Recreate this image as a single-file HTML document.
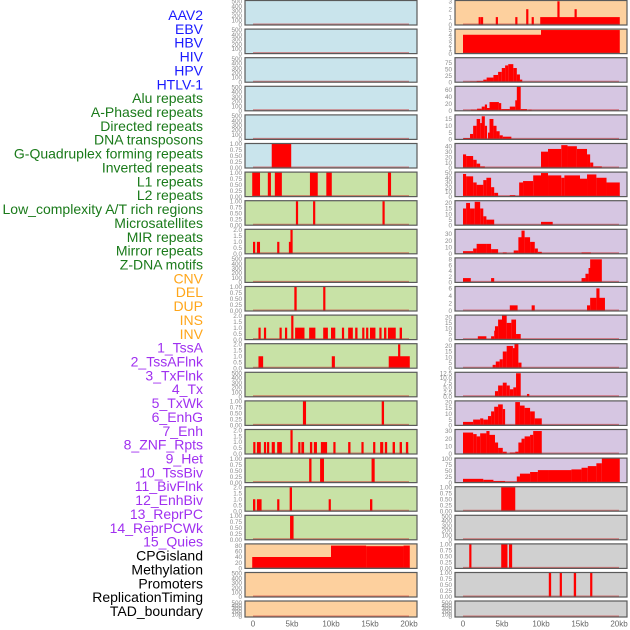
<!DOCTYPE html>
<html><head><meta charset="utf-8">
<style>
html,body{margin:0;padding:0;background:#fff;width:630px;height:630px;overflow:hidden}
svg{display:block}
.lbl{font-family:"Liberation Sans","DejaVu Sans",sans-serif;font-size:14px}
.tk{font-family:"Liberation Sans","DejaVu Sans",sans-serif;font-size:6.3px;fill:#8a8a8a}
.xt{font-family:"Liberation Sans","DejaVu Sans",sans-serif;font-size:8px;fill:#666}
</style></head>
<body>
<svg id="chart" width="630" height="630" viewBox="0 0 630 630" xmlns="http://www.w3.org/2000/svg"></svg>
<script>
const trackLabels=["AAV2","EBV","HBV","HIV","HPV","HTLV-1","Alu repeats","A-Phased repeats","Directed repeats","DNA transposons","G-Quadruplex forming repeats","Inverted repeats","L1 repeats","L2 repeats","Low_complexity A/T rich regions","Microsatellites","MIR repeats","Mirror repeats","Z-DNA motifs","CNV","DEL","DUP","INS","INV","1_TssA","2_TssAFlnk","3_TxFlnk","4_Tx","5_TxWk","6_EnhG","7_Enh","8_ZNF_Rpts","9_Het","10_TssBiv","11_BivFlnk","12_EnhBiv","13_ReprPC","14_ReprPCWk","15_Quies","CPGisland","Methylation","Promoters","ReplicationTiming","TAD_boundary"];
const labelGroups=[6,13,5,15,5];
const xTickValues=[0,5,10,15,20];
const xTickLabels=["0","5kb","10kb","15kb","20kb"];
const T500=["0","100","200","300","400","500"],T1=["0.00","0.25","0.50","0.75","1.00"],T2=["0.0","0.5","1.0","1.5","2.0"];
const leftTicks=[T500,T500,T500,T500,T500,T1,T1,T1,T2,T500,T1,T2,T2,T500,T1,T2,T1,T2,T1,["0","20","40","60","80"],T500,T500];
const leftYMax=[520,520,520,520,520,1.02,1.02,1.02,2.05,520,1.02,2.05,2.05,520,1.02,2.05,1.02,2.05,1.02,86,520,560];
const leftSegs=[[],[],[],[],[],
[[2.4,4.9,1]],
[[-0.1,0.9,1],[1.9,2.3,1],[2.8,3.7,1],[7.3,8.3,1],[9.4,10.1,1],[17.3,17.7,1]],
[[5.5,5.7,1],[7.7,7.9,1],[16.6,16.8,1]],
[[0,0.2,1],[0.5,0.9,1],[3.1,3.3,1],[4.6,5.0,1],[4.8,5.0,2]],
[],
[[5.3,5.6,1],[9.0,9.2,1]],
[[0.7,0.9,1],[1.4,1.6,1],[3.4,3.6,1],[4.1,4.3,1],[4.9,5.05,2],[5.4,6.6,1],[7.2,8.0,1],[9.0,9.6,1],[10.0,10.55,1],[11.4,11.6,1],[12.2,12.8,1],[13.1,13.4,1],[14.0,14.2,1],[14.5,14.7,1],[15.0,15.7,1],[16.2,16.4,1],[16.8,17.1,1],[17.3,18.3,1],[18.8,19.1,1]],
[[0.7,1.3,1],[10.1,10.5,1],[17.4,20.1,1],[18.6,18.8,2]],
[],
[[6.4,6.8,1],[16.5,16.8,1]],
[[0.03,0.3,1],[0.5,1.0,1],[1.4,1.66,1],[1.8,2.05,1],[2.4,2.8,1],[3.1,3.7,1],[4.8,5.0,2],[5.8,6.0,1],[6.2,6.55,1],[7.3,7.6,1],[7.8,8.2,1],[8.7,9.5,1],[10.3,10.5,1],[12.2,12.5,1],[13.9,14.1,1],[15.4,15.6,1],[16.3,16.7,1],[16.9,17.2,1],[17.9,18.2,1],[18.8,19.1,1],[19.6,19.9,1]],
[[7.2,7.5,1],[8.6,9.1,1],[15.2,15.6,1]],
[[0,0.3,1],[0.5,1.1,1],[3.1,3.3,1],[4.7,5.0,2],[9.7,9.96,1],[15.0,15.3,1]],
[[4.75,5.2,1]],
[[-0.1,10,40],[10,14.5,80],[14.5,19.3,78],[19.3,20.1,80]],
[],[]];
const rightTicks=[["0","1","2","3"],["0","1","2","3","4","5"],["0","25","50","75"],["0","20","40","60"],["0","5","10","15"],["0","10","20","30","40"],["0","10","20","30","40","50"],["0","5","10","15","20"],["0","10","20","30"],["0","2","4","6","8"],["0","2","4","6"],["0","5","10","15","20"],["0","5","10","15","20"],["0.0","2.5","5.0","7.5","10.0","12.5"],["0","5","10","15","20"],["0","10","20","30"],["0","25","50","75","100"],T1,T500,T1,T1,T500];
const rightYMax=[3.1,5.2,95,70,18,45,52,22,37,8.5,6.5,22,22,13,21,32,104,1.02,520,1.02,1.02,560];
const rightSegs=[
[[2.0,2.2,1],[2.3,2.5,1],[4.2,4.4,1],[6.7,6.9,1],[8.1,8.3,2],[8.8,9.0,1],[9.9,20.1,1],[12.1,12.3,3],[14.3,14.5,2]],
[[0,10,4],[10,20.1,5]],
[[0.9,1.75,3],[1.75,2.6,5],[2.6,3.03,10],[3.03,3.9,18],[3.9,4.5,28],[4.5,4.97,40],[4.97,5.4,55],[5.4,5.8,65],[5.8,6.45,70],[6.45,6.9,55],[6.9,7.3,30],[7.3,7.6,10]],
[[1.0,1.8,3],[1.8,2.4,6],[2.4,2.8,12],[2.8,3.0,18],[3.0,3.4,8],[3.4,4.6,25],[4.6,4.9,22],[4.9,6.0,5],[6.0,6.7,12],[6.7,6.9,30],[6.9,7.4,70],[7.4,8.2,5],[8.4,8.8,3]],
[[0.04,0.9,1],[0.9,1.3,4],[1.3,1.75,10],[1.75,2.2,15],[2.2,2.4,12],[2.4,2.8,17],[2.8,3.03,10],[3.2,3.4,5],[3.4,3.9,15],[3.9,4.3,10],[4.3,4.7,6],[4.7,5.1,3],[5.1,6.2,2]],
[[0,0.4,25],[0.4,1.3,22],[1.3,1.75,15],[1.75,2.2,8],[2.2,2.8,3],[10,10.9,30],[10.9,12.6,35],[12.6,13.4,42],[13.4,14.6,40],[14.6,15.9,35],[15.9,16.3,25],[16.3,16.7,10],[16.7,17.8,3]],
[[0,0.4,48],[0.4,1.3,43],[1.3,1.75,30],[1.75,2.6,25],[2.6,3.0,35],[3.0,3.6,40],[3.6,4.0,20],[4.0,4.5,8],[6.0,6.7,3],[7.2,7.7,30],[7.7,9.0,33],[9.0,10,45],[10,10.9,50],[10.9,12.6,45],[12.6,13.0,40],[13.0,15.0,45],[15.0,15.9,38],[15.9,17.1,47],[17.1,18.4,40],[18.4,20.1,30]],
[[0,0.4,15],[0.4,0.9,20],[0.9,1.5,15],[1.5,2.2,21],[2.2,2.6,15],[2.6,3.0,8],[3.0,4.0,5],[10,11.5,3]],
[[0,1.3,4],[1.3,1.75,8],[1.75,3.0,15],[3.0,3.6,15],[3.6,4.5,7],[5.1,5.6,2],[6.5,7.1,5],[7.1,7.5,25],[7.5,7.9,35],[7.9,8.6,25],[8.6,9.2,18],[9.2,9.6,8],[9.6,10.1,3],[15.2,16.4,2]],
[[0,1.0,1.5],[3.6,4.0,1.5],[15.2,15.7,1.5],[15.7,16.1,3],[16.1,16.3,5],[16.3,17.8,8]],
[[6.0,7.0,1.5],[8.8,9.2,1.5],[15.9,16.3,1.5],[16.3,17.1,3.5],[17.1,17.5,6],[17.5,18.2,3.5]],
[[1.9,3.0,3],[3.6,4.0,3],[4.0,4.1,8],[4.1,4.5,12],[4.5,5.0,18],[5.0,5.6,22],[5.6,6.2,15],[6.2,6.8,18],[6.8,7.4,5]],
[[3.8,4.2,3],[4.2,4.7,6],[4.7,5.1,8],[5.1,5.6,15],[5.6,6.4,20],[6.4,6.6,18],[6.6,7.1,22],[7.1,7.5,5]],
[[4.1,4.5,3],[4.5,5.1,6],[5.1,5.6,7.5],[5.6,6.0,6],[6.0,6.45,4],[6.45,6.8,5],[6.8,7.4,12.5],[8.2,8.5,1.5]],
[[0,1.3,3],[1.3,2.2,5],[2.2,2.6,6],[2.6,3.2,5],[3.2,3.6,8],[3.6,4.0,12],[4.0,4.5,16],[4.5,5.1,18],[5.1,5.4,14],[6.7,7.3,20],[7.3,7.9,17],[7.9,8.6,15],[8.6,9.2,12],[9.2,10.1,6]],
[[0,1.3,28],[1.3,1.75,26],[1.75,2.2,23],[2.2,3.0,27],[3.0,3.4,30],[3.4,4.1,25],[4.1,4.5,15],[4.5,5.1,8],[5.1,5.6,3],[6.0,6.7,2],[6.7,7.1,3],[7.1,7.5,15],[7.5,7.9,20],[7.9,8.6,23],[8.6,9.0,25],[9.0,10.1,30]],
[[0,2.6,16],[2.6,3.9,12],[3.9,5.4,7],[5.4,6.9,4],[6.9,7.3,26],[7.3,8.6,38],[8.6,9.6,45],[9.6,10.9,53],[10.9,13.9,53],[13.9,15.2,56],[15.2,16.0,63],[16.0,17.1,70],[17.1,17.8,82],[17.8,20.1,103]],
[[4.9,6.7,1]],
[],
[[0.8,1.0,1],[4.9,5.7,1],[5.9,6.3,1]],
[[11.0,11.3,1],[12.4,12.6,1],[14.2,14.5,1],[16.3,16.5,1]],
[]];
const leftBg=["#c9e4ec","#c9e4ec","#c9e4ec","#c9e4ec","#c9e4ec","#c9e4ec","#c8e2a6","#c8e2a6","#c8e2a6","#c8e2a6","#c8e2a6","#c8e2a6","#c8e2a6","#c8e2a6","#c8e2a6","#c8e2a6","#c8e2a6","#c8e2a6","#c8e2a6","#fdd09e","#fdd09e","#fdd09e"];
const rightBg=["#fdd09e","#fdd09e","#d6c6e2","#d6c6e2","#d6c6e2","#d6c6e2","#d6c6e2","#d6c6e2","#d6c6e2","#d6c6e2","#d6c6e2","#d6c6e2","#d6c6e2","#d6c6e2","#d6c6e2","#d6c6e2","#d6c6e2","#d0d0d0","#d0d0d0","#d0d0d0","#d0d0d0","#d0d0d0"];
const groupColors=["#1a1aff","#1a7a1a","#ffa61a","#a030f0","#000000"];

const NS="http://www.w3.org/2000/svg";
const svg=document.getElementById('chart');
function mk(tag,attrs,parent){const e=document.createElementNS(NS,tag);for(const k in attrs)e.setAttribute(k,attrs[k]);(parent||svg).appendChild(e);return e;}
function rowTop(i){return i<21?0.5+28.6*i:601;}
function rowH(i){return i<21?24.5:16;}
const cols=[{px:245,pw:172,x0:253,segs:leftSegs,ticks:leftTicks,ymax:leftYMax,bg:leftBg,side:'left'},
            {px:455,pw:172,x0:463,segs:rightSegs,ticks:rightTicks,ymax:rightYMax,bg:rightBg,side:'right'}];
const kbPx=7.8;
cols.forEach(c=>{
  const xs=v=>c.x0+v*kbPx;
  for(let i=0;i<22;i++){
    const t=rowTop(i),h=rowH(i),ys=v=>t+h-(v/c.ymax[i])*h;
    const g=mk('g',{});
    
    
    mk('rect',{x:c.px,y:t,width:c.pw,height:h,fill:c.bg[i]},g);
    c.segs[i].forEach(s=>{
      const x1=Math.max(c.px+0.5,xs(s[0])),x2=Math.min(c.px+c.pw-0.5,xs(s[1]));
      const w=Math.max(2.2,x2-x1);
      const r=mk('rect',{x:x1,y:ys(s[2]),width:w,height:t+h-ys(s[2]),fill:'#ff0000'},g);
      
      
    });
    mk('line',{x1:xs(0),x2:xs(20),y1:t+h-0.8,y2:t+h-0.8,stroke:'rgba(200,40,40,0.55)','stroke-width':1.4},g);
    mk('rect',{x:c.px,y:t,width:c.pw,height:h,fill:'none',stroke:'#5a5a5a','stroke-width':1.2},g);
    c.ticks[i].forEach(lab=>{
      const v=parseFloat(lab);
      const tx=mk('text',{x:c.px-3,y:ys(v)+2.2,'text-anchor':'end',class:'tk'},g);
      tx.textContent=lab;
      
      
    });
  }
  xTickValues.forEach((v,k)=>{
    const tx=mk('text',{x:xs(v),y:626.5,'text-anchor':'middle',class:'xt'});
    tx.textContent=xTickLabels[k];
    
    
  });
});
let idx=0;
labelGroups.forEach((n,gi)=>{
  for(let k=0;k<n;k++){
    const y=15+13.86*idx;
    const tx=mk('text',{x:203,y:y+5,'text-anchor':'end',class:'lbl',fill:groupColors[gi]});
    tx.textContent=trackLabels[idx];
    
    
    idx++;
  }
});
</script>
</body></html>
